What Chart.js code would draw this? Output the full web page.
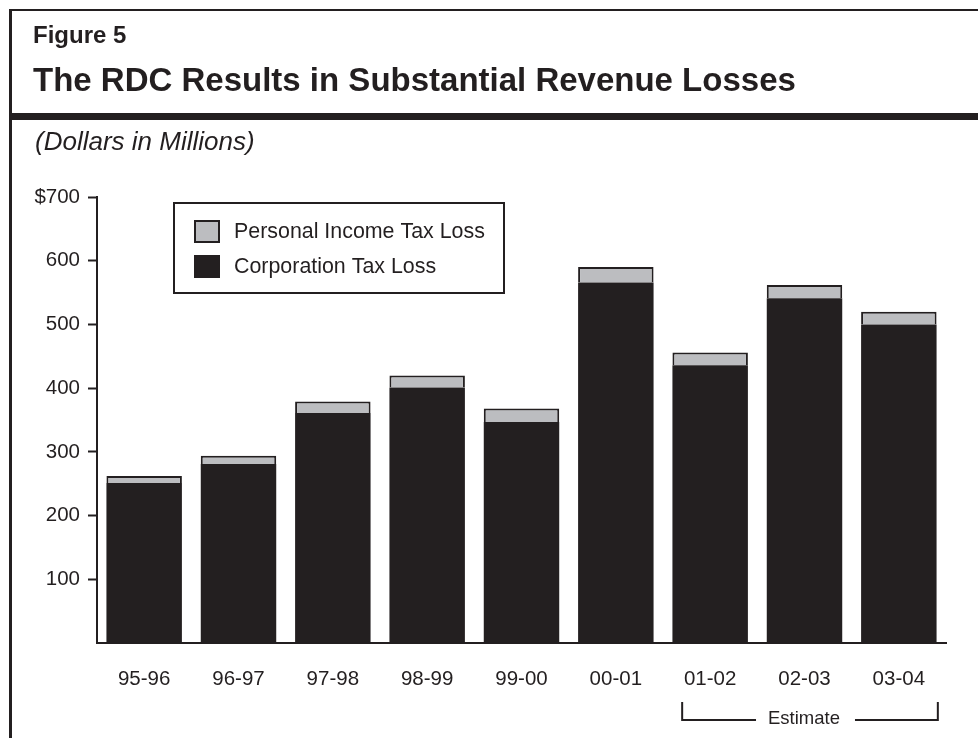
<!DOCTYPE html>
<html>
<head>
<meta charset="utf-8">
<script src="https://cdn.jsdelivr.net/npm/chart.js@4/dist/chart.umd.min.js"></script>
<style>
  html, body { margin: 0; padding: 0; background: #ffffff; }
  #wrap { position: relative; width: 978px; height: 738px; overflow: hidden; font-family: "Liberation Sans", Arial, sans-serif; color: #231f20; }
  #c { position: absolute; left: 0; top: 0; }
  .line { position: absolute; background: #231f20; }
  .txt { position: absolute; white-space: nowrap; line-height: 1; }
</style>
</head>
<body>
<div id="wrap">
  <canvas id="c" width="978" height="738"></canvas>
  <div class="line" style="left:9px; top:9px; width:969px; height:2px;"></div>
  <div class="line" style="left:9px; top:9px; width:3px; height:729px;"></div>
  <div class="line" style="left:9px; top:113px; width:969px; height:7px;"></div>
  <div class="txt" style="left:33px; top:23px; font-size:24px; font-weight:bold;">Figure 5</div>
  <div class="txt" style="left:33px; top:62.5px; font-size:33px; font-weight:bold;">The RDC Results in Substantial Revenue Losses</div>
  <div class="txt" style="left:35px; top:128px; font-size:26px; font-style:italic;">(Dollars in Millions)</div>
</div>
<script>
const categories = ['95-96','96-97','97-98','98-99','99-00','00-01','01-02','02-03','03-04'];
const corporationTaxLoss = [251, 281, 361, 401, 347, 566, 436, 541, 500];
const personalIncomeTaxLoss = [11, 13, 18, 19, 21, 24, 20, 21, 20];
const seriesNames = ['Personal Income Tax Loss', 'Corporation Tax Loss'];
const estimateLabel = 'Estimate';
const estimateFirst = '01-02';
const estimateLast = '03-04';

const DARK = '#231f20';
const GRAY = '#bcbdc0';
const FONT = '"Liberation Sans", Arial, sans-serif';

const legendBox = {
  id: 'legendBox',
  afterDraw(chart) {
    const ctx = chart.ctx;
    const a = chart.chartArea;
    const x0 = a.left + 77, y0 = a.top + 6, w = 330, h = 90;
    ctx.save();
    ctx.fillStyle = '#ffffff';
    ctx.fillRect(x0, y0, w, h);
    ctx.lineWidth = 2;
    ctx.strokeStyle = DARK;
    ctx.strokeRect(x0, y0, w, h);
    const items = [
      { name: seriesNames[0], fill: GRAY, border: DARK },
      { name: seriesNames[1], fill: DARK, border: DARK }
    ];
    items.forEach((it, i) => {
      const sy = y0 + 17 + i * 35;
      ctx.fillStyle = it.fill;
      ctx.fillRect(x0 + 20, sy, 26, 23);
      ctx.lineWidth = 2;
      ctx.strokeStyle = it.border;
      ctx.strokeRect(x0 + 21, sy + 1, 24, 21);
      ctx.fillStyle = DARK;
      ctx.font = '21.4px ' + FONT;
      ctx.textBaseline = 'middle';
      ctx.textAlign = 'left';
      ctx.fillText(it.name, x0 + 60, sy + 12.5);
    });
    ctx.restore();
  }
};

const estimateBracket = {
  id: 'estimateBracket',
  afterDraw(chart) {
    const ctx = chart.ctx;
    const xs = chart.scales.x;
    const left = xs.getPixelForValue(categories.indexOf(estimateFirst)) - 28;
    const right = xs.getPixelForValue(categories.indexOf(estimateLast)) + 39;
    const yTop = chart.chartArea.bottom + 59, yBot = chart.chartArea.bottom + 77;
    ctx.save();
    ctx.font = '18.5px ' + FONT;
    const tw = ctx.measureText(estimateLabel).width;
    const cx = (left + right) / 2 - 6;
    ctx.strokeStyle = DARK;
    ctx.lineWidth = 2;
    ctx.beginPath();
    ctx.moveTo(left, yTop); ctx.lineTo(left, yBot); ctx.lineTo(cx - tw / 2 - 12, yBot);
    ctx.moveTo(cx + tw / 2 + 15, yBot); ctx.lineTo(right, yBot); ctx.lineTo(right, yTop);
    ctx.stroke();
    ctx.fillStyle = DARK;
    ctx.textAlign = 'center';
    ctx.textBaseline = 'middle';
    ctx.fillText(estimateLabel, cx, yBot - 1);
    ctx.restore();
  }
};

new Chart(document.getElementById('c'), {
  type: 'bar',
  data: {
    labels: categories,
    datasets: [
      { label: seriesNames[1], data: corporationTaxLoss, backgroundColor: DARK, borderColor: DARK, borderWidth: 0, stack: 's' },
      { label: seriesNames[0], data: personalIncomeTaxLoss, backgroundColor: GRAY, borderColor: DARK, borderWidth: 2, borderSkipped: 'bottom', stack: 's' }
    ]
  },
  options: {
    responsive: false,
    animation: false,
    devicePixelRatio: 1,
    layout: { padding: { left: 0, right: 32, top: 197, bottom: 35 } },
    plugins: { legend: { display: false }, tooltip: { enabled: false }, title: { display: false } },
    datasets: { bar: { categoryPercentage: 0.8, barPercentage: 1.0 } },
    scales: {
      x: {
        stacked: true,
        grid: { display: true, drawOnChartArea: false, drawTicks: false },
        border: { display: true, color: DARK, width: 2 },
        ticks: { color: DARK, font: { family: FONT, size: 20.5 }, padding: 24, maxRotation: 0 },
        afterFit(s) { s.height = 60; }
      },
      y: {
        stacked: true,
        min: 0, max: 700,
        grid: {
          display: true, drawOnChartArea: false, drawTicks: true, tickLength: 9, tickWidth: 2,
          tickColor: (c) => (c.tick && c.tick.value === 0 ? 'rgba(0,0,0,0)' : DARK)
        },
        border: { display: true, color: DARK, width: 2 },
        ticks: {
          stepSize: 100, color: DARK, font: { family: FONT, size: 20.5 }, padding: 8,
          callback: (v) => (v === 0 ? '' : (v === 700 ? '$' + v : String(v)))
        },
        afterFit(s) { s.width = 97; }
      }
    }
  },
  plugins: [legendBox, estimateBracket]
});
</script>
</body>
</html>
